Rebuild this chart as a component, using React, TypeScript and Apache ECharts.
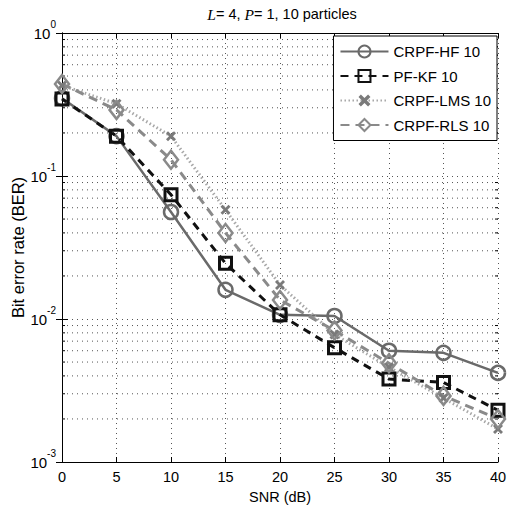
import React, { useEffect, useRef } from "react";
import * as echarts from "echarts";

const snr = [0, 5, 10, 15, 20, 25, 30, 35, 40];
const crpfHF = [0.35, 0.19, 0.056, 0.016, 0.0107, 0.0105, 0.006, 0.0058, 0.0042];
const pfKF = [0.345, 0.19, 0.074, 0.0245, 0.0107, 0.0063, 0.0038, 0.0036, 0.0023];
const crpfLMS = [0.43, 0.32, 0.19, 0.058, 0.0173, 0.0078, 0.0046, 0.0028, 0.0017];
const crpfRLS = [0.44, 0.29, 0.13, 0.04, 0.0136, 0.0083, 0.0049, 0.0029, 0.002];
const minorValues = [
  0.002, 0.003, 0.004, 0.005, 0.006, 0.007, 0.008, 0.009,
  0.02, 0.03, 0.04, 0.05, 0.06, 0.07, 0.08, 0.09,
  0.2, 0.3, 0.4, 0.5, 0.6, 0.7, 0.8, 0.9,
];
const seriesNames = ["CRPF-HF 10", "PF-KF 10", "CRPF-LMS 10", "CRPF-RLS 10"];

const FONT = "Liberation Sans, Arial, Helvetica, sans-serif";
const CROSS = "path://M2,0L5,3L8,0L10,2L7,5L10,8L8,10L5,7L2,10L0,8L3,5L0,2Z";

export default function App() {
  const ref = useRef<HTMLDivElement>(null);
  useEffect(() => {
    if (!ref.current) return;
    const chart = echarts.init(ref.current, null, { renderer: "svg" });
    const pairs = (ys: number[]) => snr.map((x, i) => [x, ys[i]]);
    const gridLine = { show: true, lineStyle: { color: "#555", width: 1, type: [1, 4] } };
    const option: any = {
      animation: false,
      backgroundColor: "#fff",
      grid: { left: 62, right: 9, top: 33, bottom: 47, containLabel: false, outerBoundsMode: "none" },
      graphic: [
        {
          type: "text",
          x: 282,
          y: 14,
          style: {
            text: "{i|L}{n|= 4, }{i|P}{n|= 1, 10 particles}",
            align: "center",
            verticalAlign: "middle",
            rich: {
              i: { fontFamily: "Liberation Serif, Times New Roman, serif", fontStyle: "italic", fontSize: 15.5, fill: "#000" },
              n: { fontFamily: FONT, fontSize: 14.5, fill: "#000" },
            },
          },
        },
      ],
      legend: {
        data: seriesNames,
        orient: "vertical",
        right: 10,
        top: 36,
        backgroundColor: "#fff",
        borderColor: "#000",
        borderWidth: 1,
        borderRadius: 0,
        padding: [8, 6, 8, 6],
        itemGap: 9.5,
        itemWidth: 48,
        itemHeight: 15,
        textStyle: { fontSize: 15, fontFamily: FONT, color: "#000" },
      },
      xAxis: [
        {
          type: "value",
          min: 0,
          max: 40,
          interval: 5,
          name: "SNR (dB)",
          nameLocation: "middle",
          nameGap: 27,
          nameMoveOverlap: false,
          nameTextStyle: { fontSize: 14.5, fontFamily: FONT, color: "#000" },
          axisLine: { lineStyle: { color: "#000", width: 1 } },
          axisTick: { inside: true, length: 5, lineStyle: { color: "#000" } },
          axisLabel: { fontSize: 14.5, fontFamily: FONT, color: "#000", margin: 7 },
          splitLine: gridLine,
        },
        {
          type: "value",
          position: "top",
          min: 0,
          max: 40,
          interval: 5,
          axisLine: { show: true, lineStyle: { color: "#000", width: 1 } },
          axisTick: { show: true, inside: true, length: 5, lineStyle: { color: "#000" } },
          axisLabel: { show: false },
          splitLine: { show: false },
        },
      ],
      yAxis: [
        {
          type: "log",
          logBase: 10,
          min: 0.001,
          max: 1,
          name: "Bit error rate (BER)",
          nameLocation: "middle",
          nameGap: 36,
          nameMoveOverlap: false,
          nameTextStyle: { fontSize: 16.5, fontFamily: FONT, color: "#000" },
          axisLine: { show: true, lineStyle: { color: "#000", width: 1 } },
          axisTick: { show: true, inside: true, length: 6, lineStyle: { color: "#000" } },
          axisLabel: {
            fontFamily: FONT,
            color: "#000",
            margin: 6,
            padding: [0, 0, 6, 0],
            formatter: (v: number) => "{b|10}{s|" + Math.round(Math.log10(v)) + "}",
            rich: {
              b: { fontSize: 15, fontFamily: FONT, color: "#000", verticalAlign: "bottom", lineHeight: 21 },
              s: { fontSize: 10, fontFamily: FONT, color: "#000", verticalAlign: "top" },
            },
          },
          splitLine: gridLine,
        },
        {
          type: "log",
          logBase: 10,
          min: 0.001,
          max: 1,
          position: "right",
          axisLine: { show: true, lineStyle: { color: "#000", width: 1 } },
          axisTick: { show: true, inside: true, length: 6, lineStyle: { color: "#000" } },
          axisLabel: { show: false },
          splitLine: { show: false },
        },
      ],
      series: [
        {
          type: "custom",
          name: "minor",
          silent: true,
          z: 1,
          xAxisIndex: 0,
          yAxisIndex: 0,
          data: minorValues.map((v) => [0, v]),
          renderItem: (params: any, api: any) => {
            const y = api.coord([0, api.value(1)])[1];
            const x0 = params.coordSys.x;
            const x1 = x0 + params.coordSys.width;
            return {
              type: "group",
              children: [
                { type: "line", shape: { x1: x0, y1: y, x2: x1, y2: y }, style: { stroke: "#555", lineWidth: 1, lineDash: [1, 4] } },
                { type: "line", shape: { x1: x0, y1: y, x2: x0 + 3, y2: y }, style: { stroke: "#000", lineWidth: 1 } },
                { type: "line", shape: { x1: x1 - 3, y1: y, x2: x1, y2: y }, style: { stroke: "#000", lineWidth: 1 } },
              ],
            };
          },
        },
        {
          name: seriesNames[0],
          type: "line",
          data: pairs(crpfHF),
          symbol: "circle",
          symbolSize: 14,
          lineStyle: { color: "#6a6a6a", width: 2.5, type: "solid" },
          itemStyle: { color: "rgba(255,255,255,0)", borderColor: "#6a6a6a", borderWidth: 2.5 },
        },
        {
          name: seriesNames[1],
          type: "line",
          data: pairs(pfKF),
          symbol: "rect",
          symbolSize: 12,
          lineStyle: { color: "#111", width: 3, type: [8, 6] },
          itemStyle: { color: "rgba(255,255,255,0)", borderColor: "#111", borderWidth: 3 },
        },
        {
          name: seriesNames[2],
          type: "line",
          data: pairs(crpfLMS),
          symbol: CROSS,
          symbolSize: 10,
          lineStyle: { color: "#a8a8a8", width: 3, type: [1.5, 2.5] },
          itemStyle: { color: "#7a7a7a", borderWidth: 0 },
        },
        {
          name: seriesNames[3],
          type: "line",
          data: pairs(crpfRLS),
          symbol: "diamond",
          symbolSize: [14, 18],
          lineStyle: { color: "#8a8a8a", width: 3, type: [9, 6] },
          itemStyle: { color: "rgba(255,255,255,0)", borderColor: "#8a8a8a", borderWidth: 2.5 },
        },
      ],
    };
    chart.setOption(option);
    return () => chart.dispose();
  }, []);
  return <div ref={ref} style={{ width: 507, height: 509, position: "absolute", left: 0, top: 0 }} />;
}
